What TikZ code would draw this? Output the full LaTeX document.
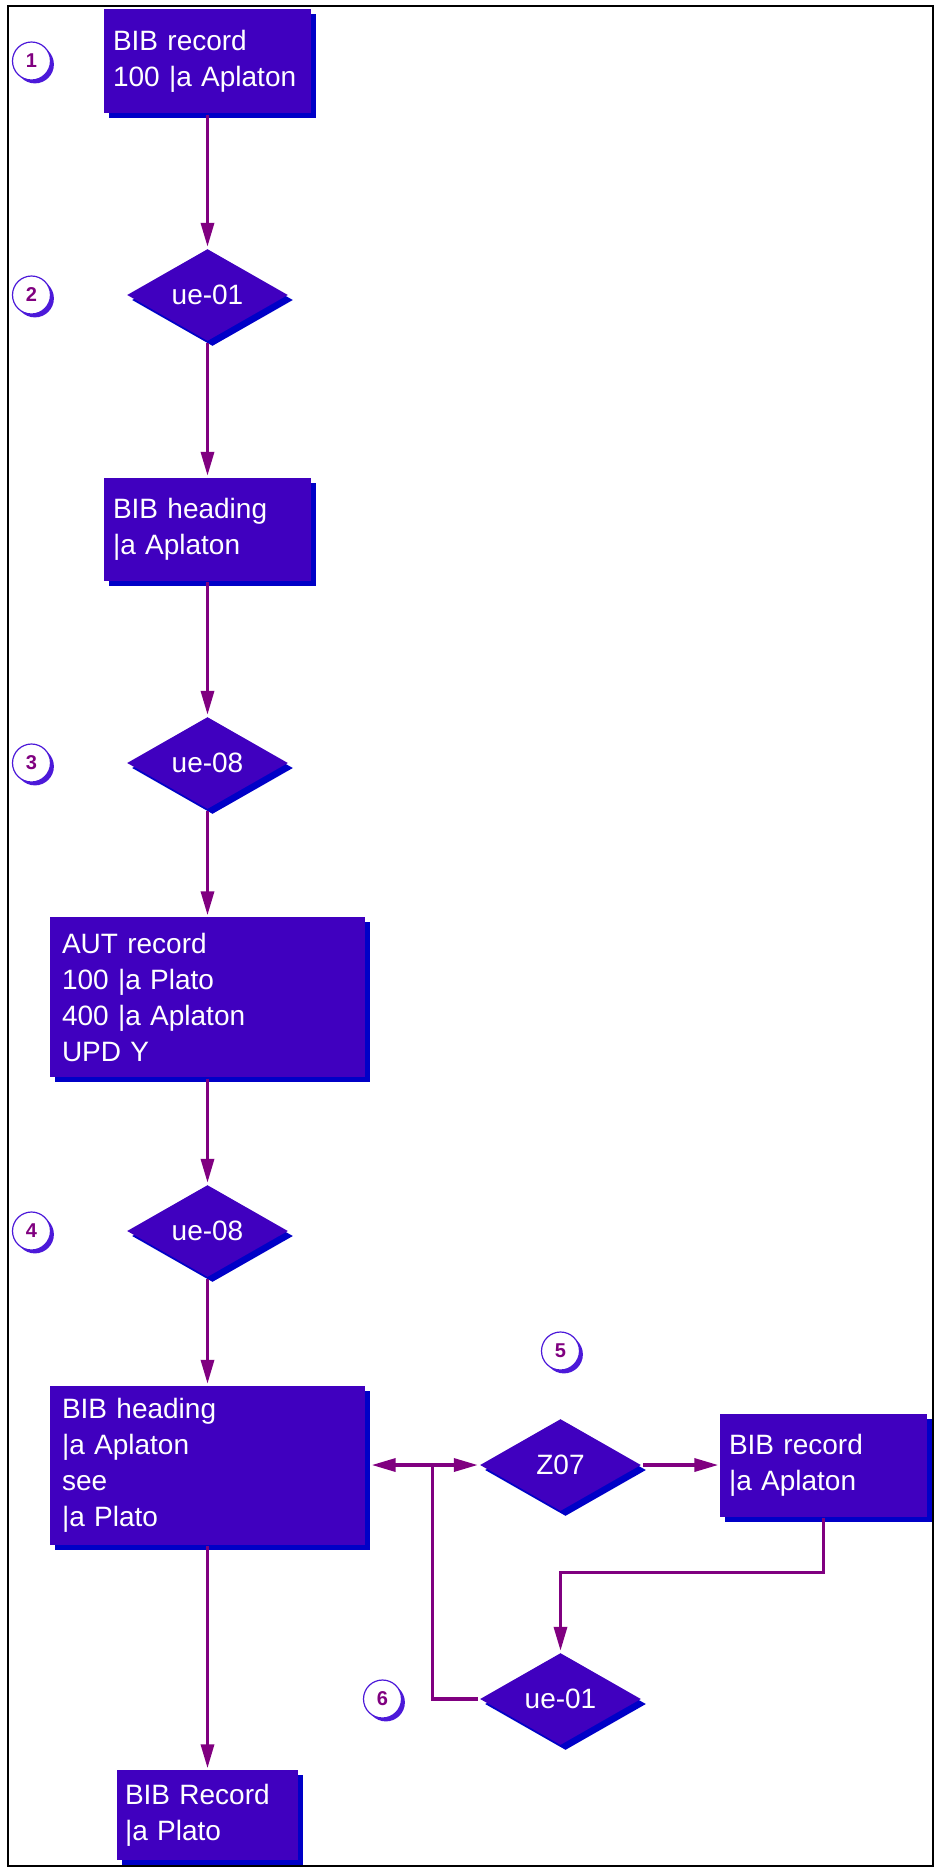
\documentclass[tikz,border=0pt]{standalone}
\usepackage{fontspec}
\setmainfont{Liberation Sans}
\usetikzlibrary{shapes.geometric,shadows,arrows.meta}
\definecolor{recBlue}{rgb}{0.25,0,0.75}
\definecolor{shadeBlue}{rgb}{0,0,0.78}
\definecolor{linkPurple}{rgb}{0.5,0,0.5}
\definecolor{ringBlue}{rgb}{0.3,0.1,0.85}

\begin{document}
\begin{tikzpicture}[x=0.5pt,y=-0.5pt,-,line width=1.7pt,node distance=117pt,font=\fontsize{14}{18}\selectfont]
  \tikzstyle{rec}=[rectangle,fill=recBlue,text=white,align=left,inner xsep=4.5pt,inner ysep=0pt,
    general shadow={fill=shadeBlue,shadow xshift=2.5pt,shadow yshift=-2.5pt}]
  \tikzstyle{test}=[diamond,fill=recBlue,text=white,inner sep=0pt,minimum width=81pt,minimum height=46.5pt,
    general shadow={fill=shadeBlue,shadow xshift=2.5pt,shadow yshift=-2.5pt}]
  \tikzstyle{stepno}=[circle,draw=ringBlue,fill=white,line width=0.6pt,inner sep=0pt,minimum size=19pt,
    text=linkPurple,font=\fontsize{10}{10}\selectfont\bfseries,
    general shadow={fill=ringBlue,shadow xshift=1.7pt,shadow yshift=-1.7pt}]
  \tikzstyle{wire}=[draw=linkPurple,line width=1.7pt]
  \tikzstyle{link}=[wire,-{Triangle[width=6.5pt,length=12pt]}]

  \useasboundingbox (0,0) rectangle (936,1870);
  \draw[line width=1pt] (8,6) rectangle (933,1866);

  \node[rec,text width=94.5pt,minimum height=52pt] (bib1) at (207.5,61) {BIB record\\100 |a Aplaton};
  \node[test] (ue1)  [below of=bib1] {ue-01};
  \node[rec,text width=94.5pt,minimum height=51.5pt] (head1) [below of=ue1] {BIB heading\\|a Aplaton};
  \node[test] (ue8a) [below of=head1] {ue-08};
  \node[rec,text width=145.5pt,minimum height=80pt,inner xsep=6pt] (aut) [below of=ue8a]
    {AUT record\\100 |a Plato\\400 |a Aplaton\\UPD Y};
  \node[test] (ue8b) [below of=aut] {ue-08};
  \node[rec,text width=145.5pt,minimum height=79.5pt,inner xsep=6pt] (head2) [below of=ue8b]
    {BIB heading\\|a Aplaton\\see\\|a Plato};
  \node[rec,text width=82.5pt,minimum height=45pt,inner xsep=4pt] (bib3) [below of=head2,node distance=175pt]
    {BIB Record\\|a Plato};
  \node[test] (z07)  [right of=head2,node distance=176.5pt] {Z07};
  \node[rec,text width=94.5pt,minimum height=51.5pt] (bib2) [right of=z07,node distance=131.5pt]
    {BIB record\\|a Aplaton};
  \node[test] (ue1b) [below of=z07] {ue-01};

  \node[stepno] (n1) [left of=bib1,node distance=88pt] {1};
  \node[stepno] (n2) [left of=ue1,node distance=88pt]  {2};
  \node[stepno] (n3) [left of=ue8a,node distance=88pt] {3};
  \node[stepno] (n4) [left of=ue8b,node distance=88pt] {4};
  \node[stepno] (n5) [above of=z07,node distance=57pt] {5};
  \node[stepno] (n6) [left of=ue1b,node distance=89pt] {6};

  \coordinate (fork) at ([xshift=33pt]head2.east);

  \path (bib1)  edge[link] (ue1);
  \path (ue1)   edge[link] (head1);
  \path (head1) edge[link] (ue8a);
  \path (ue8a)  edge[link] (aut);
  \path (aut)   edge[link] (ue8b);
  \path (ue8b)  edge[link] (head2);
  \path (head2) edge[link] (bib3);
  \path (z07)   edge[link] (bib2);
  \draw[link,shorten >=2.5pt] (fork) -- (head2.east);
  \draw[link] (fork) -- (z07.west);
  \draw[wire] (ue1b.west) -| (fork);
  \draw[link] (bib2.south) -- ++(0,-27pt) -| (ue1b.north);
\end{tikzpicture}
\end{document}
